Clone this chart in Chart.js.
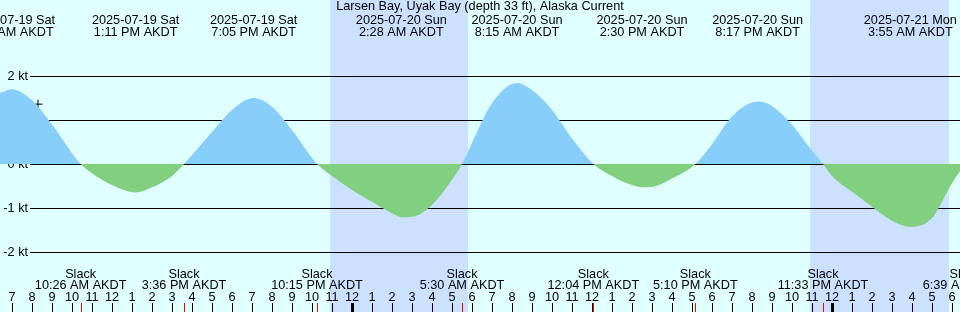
<!DOCTYPE html>
<html>
<head>
<meta charset="utf-8">
<script src="https://cdn.jsdelivr.net/npm/chart.js@4.4.1/dist/chart.umd.min.js"></script>
<style>
  html, body { margin: 0; padding: 0; background: #e0ffff; }
  #wrap { width: 960px; height: 312px; }
</style>
</head>
<body>
<div id="wrap"><canvas id="tideChart" width="960" height="312"></canvas></div>
<script>
// Hours are counted from 2025-07-19 7:00 AM AKDT
const title = 'Larsen Bay, Uyak Bay (depth 33 ft), Alaska Current';

// Current speed (kt) read at each whole hour, t = 0..47
const hourlyKnots = [
    1.70, 1.45, 0.90, 0.24, -0.21, -0.48, -0.63, -0.53, -0.27, 0.18,
    0.73, 1.23, 1.49, 1.30, 0.77, 0.15, -0.27, -0.59, -0.86, -1.12,
    -1.20, -0.93, -0.36, 0.48, 1.38, 1.80, 1.68, 1.23, 0.58, 0.05,
    -0.27, -0.48, -0.52, -0.33, -0.06, 0.45, 1.08, 1.38, 1.32, 0.89,
    0.30, -0.27, -0.63, -0.97, -1.29, -1.42, -1.23, -0.44
];
const edgeHours = [-0.6];
const edgeKnots = [1.61];

// Max / min flood and ebb
const extremeHours = [-0.03, 6.183, 12.083, 19.467, 25.25, 31.5, 37.283, 44.917];
const extremeKnots = [1.70, -0.65, 1.50, -1.21, 1.84, -0.53, 1.42, -1.43];
const extremeDates = ['2025-07-19 Sat', '2025-07-19 Sat', '2025-07-19 Sat', '2025-07-20 Sun',
                      '2025-07-20 Sun', '2025-07-20 Sun', '2025-07-20 Sun', '2025-07-21 Mon'];
const extremeTimes = ['6:58 AM AKDT', '1:11 PM AKDT', '7:05 PM AKDT', '2:28 AM AKDT',
                      '8:15 AM AKDT', '2:30 PM AKDT', '8:17 PM AKDT', '3:55 AM AKDT'];

// Slack water
const slackHours = [3.433, 8.6, 15.25, 22.5, 29.067, 34.167, 40.55, 47.65];
const slackTimes = ['10:26 AM AKDT', '3:36 PM AKDT', '10:15 PM AKDT', '5:30 AM AKDT',
                    '12:04 PM AKDT', '5:10 PM AKDT', '11:33 PM AKDT', '6:39 AM AKDT'];

// Night (sunset -> sunrise)
const nightStart = [15.9, 39.9];
const nightEnd = [22.78, 46.85];

// Hour axis
const hourLabels = [
    '7', '8', '9', '10', '11', '12', '1', '2', '3', '4', '5', '6',
    '7', '8', '9', '10', '11', '12', '1', '2', '3', '4', '5', '6',
    '7', '8', '9', '10', '11', '12', '1', '2', '3', '4', '5', '6',
    '7', '8', '9', '10', '11', '12', '1', '2', '3', '4', '5', '6'
];
const midnightHours = [17, 41];

const knotTicks = [2, 1, 0, -1, -2];
const knotLabels = ['2 kt', '1 kt', '0 kt', '-1 kt', '-2 kt'];

const markerHours = [1.3];
const markerKnots = [1.36];

const FONT = '12.7px "Liberation Sans", Arial, sans-serif';

// hourly readings too close to an event point are skipped so the spline stays smooth
function buildCurve() {
    const events = extremeHours.concat(slackHours);
    const pts = [];
    edgeHours.forEach((h, i) => pts.push({ x: h, y: edgeKnots[i] }));
    hourlyKnots.forEach((v, i) => {
        if (events.every(e => Math.abs(e - i) >= 0.45)) pts.push({ x: i, y: v });
    });
    extremeHours.forEach((h, i) => pts.push({ x: h, y: extremeKnots[i] }));
    slackHours.forEach(h => pts.push({ x: h, y: 0 }));
    pts.sort((a, b) => a.x - b.x);
    return pts;
}

const backdrop = {
    id: 'backdrop',
    beforeDraw(chart) {
        const { ctx, scales: { x, y } } = chart;
        ctx.save();
        ctx.fillStyle = '#e0ffff';
        ctx.fillRect(0, 0, chart.width, chart.height);
        ctx.fillStyle = '#cce0ff';
        nightStart.forEach((s, i) => {
            const x0 = Math.round(x.getPixelForValue(s));
            const x1 = Math.round(x.getPixelForValue(nightEnd[i]));
            ctx.fillRect(x0, 0, x1 - x0, chart.height);
        });
        // knot grid
        ctx.strokeStyle = '#000';
        ctx.lineWidth = 1;
        ctx.fillStyle = '#000';
        ctx.font = FONT;
        ctx.textAlign = 'right';
        ctx.textBaseline = 'middle';
        knotTicks.forEach((k, i) => {
            const py = Math.round(y.getPixelForValue(k)) + 0.5;
            ctx.beginPath();
            ctx.moveTo(30, py);
            ctx.lineTo(chart.width, py);
            ctx.stroke();
            ctx.fillText(knotLabels[i], 28, py);
        });
        ctx.restore();
    }
};

const annotations = {
    id: 'annotations',
    afterDraw(chart) {
        const { ctx, scales: { x } } = chart;
        ctx.save();
        ctx.fillStyle = '#000';
        ctx.font = FONT;
        ctx.textAlign = 'center';
        ctx.textBaseline = 'alphabetic';
        ctx.fillText(title, 480, 10);
        extremeHours.forEach((h, i) => {
            const px = x.getPixelForValue(h);
            ctx.fillText(extremeDates[i], px, 24);
            ctx.fillText(extremeTimes[i], px, 36);
        });
        slackHours.forEach((h, i) => {
            const px = x.getPixelForValue(h);
            ctx.fillText('Slack', px, 278);
            ctx.fillText(slackTimes[i], px, 289);
        });
        // hour ticks
        hourLabels.forEach((lab, i) => {
            const px = Math.round(x.getPixelForValue(i));
            ctx.fillText(lab, px, 301);
            if (midnightHours.includes(i)) {
                ctx.fillRect(px - 1, 303, 3, 9);
            } else {
                ctx.fillRect(px, 303, 1, 9);
            }
        });
        ctx.fillStyle = '#ff0000';
        slackHours.forEach(h => {
            const px = Math.round(x.getPixelForValue(h));
            ctx.fillRect(px, 303, 1, 9);
        });
        ctx.restore();
    }
};

new Chart(document.getElementById('tideChart'), {
    type: 'line',
    data: {
        datasets: [{
            data: buildCurve(),
            borderWidth: 0,
            borderColor: 'rgba(0,0,0,0)',
            pointRadius: 0,
            cubicInterpolationMode: 'monotone',
            fill: {
                target: 'origin',
                above: '#87cefa',
                below: '#80d080'
            }
        }, {
            type: 'scatter',
            data: markerHours.map((h, i) => ({ x: h, y: markerKnots[i] })),
            pointStyle: 'cross',
            pointRadius: 4.5,
            borderColor: '#000',
            borderWidth: 1,
            showLine: false
        }]
    },
    options: {
        responsive: false,
        animation: false,
        devicePixelRatio: 1,
        layout: { padding: 0, autoPadding: false },
        scales: {
            x: { type: 'linear', min: -0.6, max: 47.4, display: false },
            y: { type: 'linear', min: (164 - 312) / 44, max: 164 / 44, display: false }
        },
        plugins: {
            legend: { display: false },
            tooltip: { enabled: false }
        }
    },
    plugins: [backdrop, annotations]
});
</script>
</body>
</html>
